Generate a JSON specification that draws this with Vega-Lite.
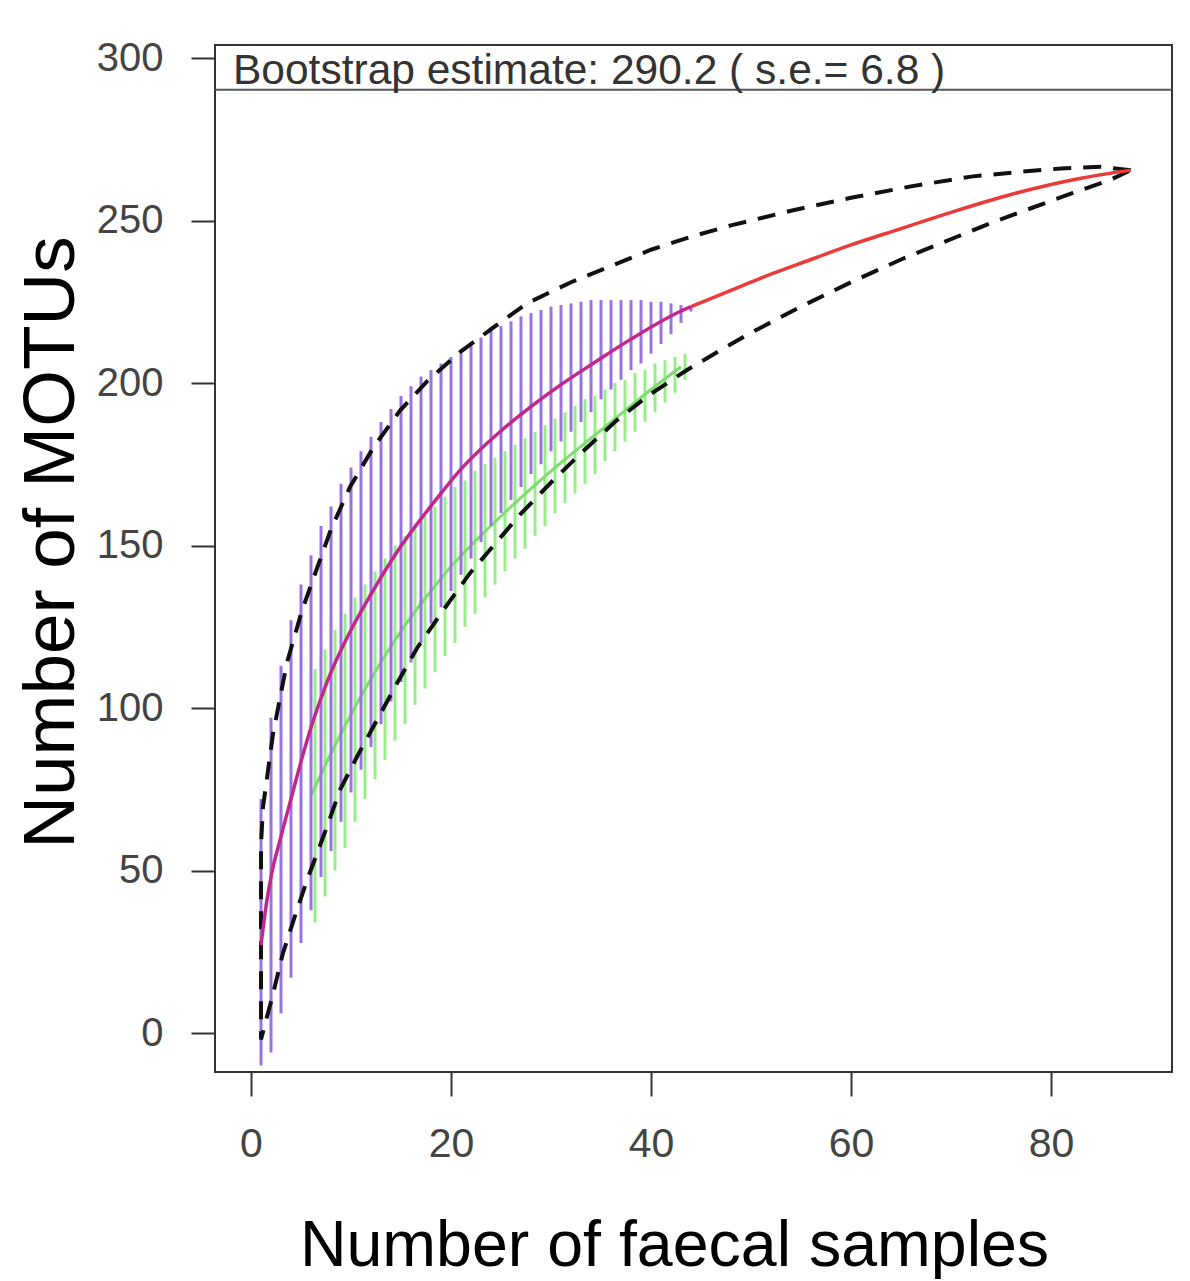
{
  "$schema": "https://vega.github.io/schema/vega-lite/v6.json",
  "width": 957,
  "height": 1027,
  "autosize": {"type": "none"},
  "padding": {"left": 215, "top": 45, "right": 18, "bottom": 209},
  "background": "white",
  "config": {
    "font": "Liberation Sans",
    "view": {"stroke": "#333333", "strokeWidth": 2}
  },
  "datasets": {
    "purple": [
      {"x": 1, "lo": -10, "hi": 72}, {"x": 2, "lo": -6, "hi": 97}, {"x": 3, "lo": 6, "hi": 113}, {"x": 4, "lo": 17, "hi": 127},
      {"x": 5, "lo": 27.7, "hi": 138}, {"x": 6, "lo": 37.8, "hi": 147}, {"x": 7, "lo": 48, "hi": 156}, {"x": 8, "lo": 56, "hi": 162},
      {"x": 9, "lo": 65, "hi": 169}, {"x": 10, "lo": 74, "hi": 174}, {"x": 11, "lo": 81, "hi": 179}, {"x": 12, "lo": 88, "hi": 183.5},
      {"x": 13, "lo": 95, "hi": 188}, {"x": 14, "lo": 102, "hi": 192}, {"x": 15, "lo": 108, "hi": 196}, {"x": 16, "lo": 114, "hi": 199},
      {"x": 17, "lo": 120, "hi": 202}, {"x": 18, "lo": 126, "hi": 204}, {"x": 19, "lo": 131, "hi": 206}, {"x": 20, "lo": 136, "hi": 208},
      {"x": 21, "lo": 141, "hi": 210}, {"x": 22, "lo": 146, "hi": 212}, {"x": 23, "lo": 151, "hi": 214}, {"x": 24, "lo": 156, "hi": 216},
      {"x": 25, "lo": 160, "hi": 217.5}, {"x": 26, "lo": 164, "hi": 219}, {"x": 27, "lo": 168, "hi": 220.5}, {"x": 28, "lo": 172, "hi": 221.5},
      {"x": 29, "lo": 175, "hi": 222.5}, {"x": 30, "lo": 179, "hi": 223.5}, {"x": 31, "lo": 182, "hi": 224}, {"x": 32, "lo": 185, "hi": 224.5},
      {"x": 33, "lo": 188, "hi": 225}, {"x": 34, "lo": 191, "hi": 225.5}, {"x": 35, "lo": 195, "hi": 225.5}, {"x": 36, "lo": 198, "hi": 225.5},
      {"x": 37, "lo": 201, "hi": 225.5}, {"x": 38, "lo": 204, "hi": 225.5}, {"x": 39, "lo": 206, "hi": 225.5}, {"x": 40, "lo": 209, "hi": 225},
      {"x": 41, "lo": 212, "hi": 225}, {"x": 42, "lo": 215, "hi": 224.5}, {"x": 43, "lo": 218.5, "hi": 224}, {"x": 44, "lo": 222, "hi": 223.5}
    ],
    "green": [
      {"x": 6, "lo": 34, "hi": 112}, {"x": 7, "lo": 42, "hi": 118}, {"x": 8, "lo": 50, "hi": 124}, {"x": 9, "lo": 57, "hi": 129},
      {"x": 10, "lo": 65, "hi": 134}, {"x": 11, "lo": 72, "hi": 138}, {"x": 12, "lo": 78, "hi": 142}, {"x": 13, "lo": 84, "hi": 146},
      {"x": 14, "lo": 90, "hi": 150}, {"x": 15, "lo": 95, "hi": 153}, {"x": 16, "lo": 101, "hi": 156}, {"x": 17, "lo": 106, "hi": 159},
      {"x": 18, "lo": 111, "hi": 162}, {"x": 19, "lo": 116, "hi": 165}, {"x": 20, "lo": 120, "hi": 168}, {"x": 21, "lo": 125, "hi": 170},
      {"x": 22, "lo": 129, "hi": 173}, {"x": 23, "lo": 134, "hi": 175}, {"x": 24, "lo": 138, "hi": 177}, {"x": 25, "lo": 142, "hi": 179},
      {"x": 26, "lo": 146, "hi": 181}, {"x": 27, "lo": 149, "hi": 183}, {"x": 28, "lo": 153, "hi": 185}, {"x": 29, "lo": 156, "hi": 187},
      {"x": 30, "lo": 160, "hi": 189}, {"x": 31, "lo": 163, "hi": 191}, {"x": 32, "lo": 166, "hi": 193}, {"x": 33, "lo": 169, "hi": 195},
      {"x": 34, "lo": 172, "hi": 196}, {"x": 35, "lo": 176, "hi": 198}, {"x": 36, "lo": 179, "hi": 200}, {"x": 37, "lo": 182, "hi": 201},
      {"x": 38, "lo": 185, "hi": 203}, {"x": 39, "lo": 188, "hi": 204}, {"x": 40, "lo": 191, "hi": 206}, {"x": 41, "lo": 194, "hi": 207},
      {"x": 42, "lo": 197, "hi": 208}, {"x": 43, "lo": 201, "hi": 209}
    ],
    "greenmean": [
      {"x": 6, "y": 73}, {"x": 8, "y": 86}, {"x": 10, "y": 98}, {"x": 12, "y": 109}, {"x": 14, "y": 119}, {"x": 16, "y": 128},
      {"x": 18, "y": 136}, {"x": 20, "y": 143.5}, {"x": 22, "y": 150}, {"x": 25, "y": 159}, {"x": 28, "y": 167.5}, {"x": 31, "y": 175.5},
      {"x": 34, "y": 183}, {"x": 37, "y": 190.5}, {"x": 40, "y": 198}, {"x": 43, "y": 205}
    ],
    "mean": [
      {"x": 1, "y": 27}, {"x": 1.6, "y": 41}, {"x": 2, "y": 48}, {"x": 3, "y": 60.5}, {"x": 4, "y": 72}, {"x": 5, "y": 83.5},
      {"x": 6, "y": 94}, {"x": 7, "y": 103}, {"x": 8, "y": 111}, {"x": 10, "y": 124}, {"x": 12, "y": 135}, {"x": 14.6, "y": 148},
      {"x": 18.6, "y": 164.5}, {"x": 21, "y": 173.5}, {"x": 24.9, "y": 185}, {"x": 27.9, "y": 192.5}, {"x": 31, "y": 199.5},
      {"x": 34.2, "y": 206}, {"x": 38, "y": 213.5}, {"x": 42.9, "y": 222}, {"x": 44, "y": 223.5}
    ],
    "extrap": [
      {"x": 44, "y": 223.5}, {"x": 48, "y": 228.5}, {"x": 52, "y": 233.5}, {"x": 56, "y": 238}, {"x": 60, "y": 242.5},
      {"x": 65, "y": 247.5}, {"x": 70, "y": 252.5}, {"x": 76, "y": 258}, {"x": 83, "y": 263}, {"x": 88, "y": 265.5}
    ],
    "ci": [
      {"i": 1, "x": 88, "y": 265.5}, {"i": 2, "x": 85, "y": 266.5}, {"i": 3, "x": 81, "y": 266}, {"i": 4, "x": 77, "y": 265},
      {"i": 5, "x": 72, "y": 263.5}, {"i": 6, "x": 66, "y": 260.5}, {"i": 7, "x": 60, "y": 257}, {"i": 8, "x": 54, "y": 253},
      {"i": 9, "x": 48, "y": 248.5}, {"i": 10, "x": 44, "y": 245}, {"i": 11, "x": 40, "y": 241}, {"i": 12, "x": 36, "y": 236},
      {"i": 13, "x": 32, "y": 231}, {"i": 14, "x": 27.6, "y": 224.5}, {"i": 15, "x": 24.2, "y": 217}, {"i": 16, "x": 20.9, "y": 209.5},
      {"i": 17, "x": 17.6, "y": 200.5}, {"i": 18, "x": 14.9, "y": 191.5}, {"i": 19, "x": 12.2, "y": 180}, {"i": 20, "x": 9.9, "y": 168},
      {"i": 21, "x": 8, "y": 155}, {"i": 22, "x": 6.6, "y": 143}, {"i": 23, "x": 5.1, "y": 130}, {"i": 24, "x": 3.6, "y": 114},
      {"i": 25, "x": 2.2, "y": 92}, {"i": 26, "x": 1.2, "y": 69.5}, {"i": 27, "x": 1, "y": 58}, {"i": 28, "x": 1, "y": -2},
      {"i": 29, "x": 2.2, "y": 12}, {"i": 30, "x": 3.2, "y": 24.6}, {"i": 31, "x": 4.4, "y": 36}, {"i": 32, "x": 5.6, "y": 47},
      {"i": 33, "x": 7.6, "y": 63.5}, {"i": 34, "x": 8.9, "y": 74.8}, {"i": 35, "x": 10.6, "y": 85}, {"i": 36, "x": 12.6, "y": 96.3},
      {"i": 37, "x": 14.6, "y": 107.6}, {"i": 38, "x": 16.6, "y": 118.4}, {"i": 39, "x": 19.2, "y": 130}, {"i": 40, "x": 21.9, "y": 141.5},
      {"i": 41, "x": 26.9, "y": 159.5}, {"i": 42, "x": 30.2, "y": 170}, {"i": 43, "x": 33.2, "y": 179}, {"i": 44, "x": 36.6, "y": 188.6},
      {"i": 45, "x": 39.9, "y": 196.5}, {"i": 46, "x": 43.6, "y": 204}, {"i": 47, "x": 46.9, "y": 210}, {"i": 48, "x": 49.7, "y": 215},
      {"i": 49, "x": 55, "y": 223.5}, {"i": 50, "x": 60, "y": 231}, {"i": 51, "x": 65, "y": 238}, {"i": 52, "x": 70.6, "y": 245},
      {"i": 53, "x": 74.2, "y": 249.5}, {"i": 54, "x": 78.2, "y": 254}, {"i": 55, "x": 82.2, "y": 258.5}, {"i": 56, "x": 85.9, "y": 262.5},
      {"i": 57, "x": 88, "y": 265.5}
    ],
    "boot": [{"x": -1.8, "y": 290.2, "label": "Bootstrap estimate: 290.2 ( s.e.= 6.8 )"}]
  },
  "layer": [
    {
      "data": {"name": "green"},
      "mark": {"type": "rule", "color": "#96ee86", "strokeWidth": 3, "xOffset": 4},
      "encoding": {
        "x": {
          "field": "x", "type": "quantitative",
          "scale": {"domain": [-3.6, 92.1], "nice": false, "zero": false},
          "title": "Number of faecal samples",
          "axis": {
            "values": [0, 20, 40, 60, 80], "domain": false, "grid": false,
            "tickSize": 24, "tickWidth": 2, "tickColor": "#333333",
            "labelFontSize": 41, "labelColor": "#444444", "labelPadding": 28, "labelFlush": false, "labelOverlap": false,
            "titleFontSize": 64.5, "titleFontWeight": "normal", "titleColor": "#000000",
            "titleX": 459, "titleY": 193, "titleAlign": "center", "titleBaseline": "alphabetic", "titleAnchor": null
          }
        },
        "y": {
          "field": "lo", "type": "quantitative",
          "scale": {"domain": [-12, 304], "nice": false, "zero": false},
          "title": "Number of MOTUs",
          "axis": {
            "values": [0, 50, 100, 150, 200, 250, 300], "domain": false, "grid": false,
            "tickSize": 24, "tickWidth": 2, "tickColor": "#333333",
            "labelFontSize": 40, "labelColor": "#444444", "labelPadding": 28, "labelAngle": 0, "labelAlign": "right", "labelBaseline": "middle", "labelOverlap": false, "labelFlush": false,
            "titleFontSize": 73, "titleFontWeight": "normal", "titleColor": "#000000",
            "titleX": -142, "titleY": 497, "titleAngle": -90, "titleAlign": "center", "titleBaseline": "alphabetic", "titleAnchor": null
          }
        },
        "y2": {"field": "hi"}
      }
    },
    {
      "data": {"name": "greenmean"},
      "mark": {"type": "line", "color": "#7fdc70", "strokeWidth": 3, "interpolate": "monotone"},
      "encoding": {
        "x": {"field": "x", "type": "quantitative", "title": "Number of faecal samples"},
        "y": {"field": "y", "type": "quantitative", "title": "Number of MOTUs"}
      }
    },
    {
      "data": {"name": "purple"},
      "mark": {"type": "rule", "color": "#9b73e0", "strokeWidth": 3},
      "encoding": {
        "x": {"field": "x", "type": "quantitative", "title": "Number of faecal samples"},
        "y": {"field": "lo", "type": "quantitative", "title": "Number of MOTUs"},
        "y2": {"field": "hi"}
      }
    },
    {
      "data": {"name": "ci"},
      "mark": {"type": "line", "color": "#111111", "strokeWidth": 4, "strokeDash": [18, 12]},
      "encoding": {
        "x": {"field": "x", "type": "quantitative", "title": "Number of faecal samples"},
        "y": {"field": "y", "type": "quantitative", "title": "Number of MOTUs"},
        "order": {"field": "i", "type": "quantitative"}
      }
    },
    {
      "data": {"name": "mean"},
      "mark": {"type": "line", "color": "#c0288c", "strokeWidth": 3.5, "interpolate": "monotone"},
      "encoding": {
        "x": {"field": "x", "type": "quantitative", "title": "Number of faecal samples"},
        "y": {"field": "y", "type": "quantitative", "title": "Number of MOTUs"}
      }
    },
    {
      "data": {"name": "extrap"},
      "mark": {"type": "line", "color": "#ea3a3a", "strokeWidth": 3.5, "interpolate": "monotone"},
      "encoding": {
        "x": {"field": "x", "type": "quantitative", "title": "Number of faecal samples"},
        "y": {"field": "y", "type": "quantitative", "title": "Number of MOTUs"}
      }
    },
    {
      "data": {"name": "boot"},
      "mark": {"type": "rule", "color": "#555555", "strokeWidth": 2},
      "encoding": {
        "y": {"field": "y", "type": "quantitative", "title": "Number of MOTUs"}
      }
    },
    {
      "data": {"name": "boot"},
      "mark": {"type": "text", "align": "left", "baseline": "alphabetic", "fontSize": 42.5, "dy": -6, "color": "#333333"},
      "encoding": {
        "x": {"field": "x", "type": "quantitative", "title": "Number of faecal samples"},
        "y": {"field": "y", "type": "quantitative", "title": "Number of MOTUs"},
        "text": {"field": "label"}
      }
    }
  ]
}
